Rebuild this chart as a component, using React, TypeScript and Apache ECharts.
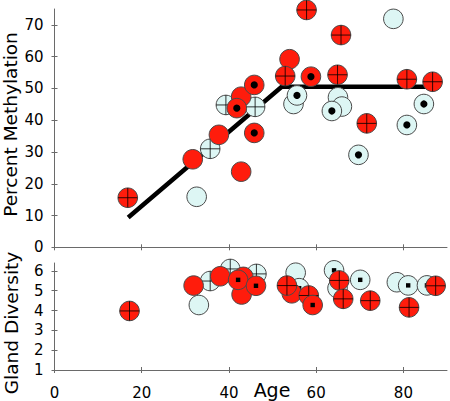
import React, { useEffect, useRef } from "react";
import * as echarts from "echarts";

// ---- Data ----
// Top panel: Percent Methylation vs Age
const methAge = [16.8, 31.7, 32.6, 35.7, 37.7, 39.3, 41.8, 42.8, 42.8, 45.8, 46.0, 45.8, 52.9, 53.9, 55.6, 54.8, 57.8, 58.8, 64.9, 65.7, 65.0, 65.9, 63.6, 71.6, 69.7, 77.7, 80.8, 80.8, 84.7, 86.7];
const methPct = [15.6, 27.7, 15.9, 31.0, 35.4, 44.8, 43.8, 47.4, 23.8, 51.1, 44.2, 36.0, 53.9, 59.2, 47.8, 45.1, 74.7, 53.7, 54.3, 66.8, 47.2, 44.3, 42.9, 39.0, 29.1, 71.9, 52.9, 38.5, 45.1, 52.1];
const methColor = ["red", "red", "cyan", "cyan", "red", "cyan", "red", "red", "red", "red", "cyan", "red", "red", "red", "cyan", "cyan", "red", "red", "red", "red", "cyan", "cyan", "cyan", "red", "cyan", "cyan", "red", "cyan", "cyan", "red"];
const methMark = ["cross", "plain", "plain", "cross", "plain", "cross", "dot", "plain", "plain", "dot", "cross", "dot", "cross", "plain", "dot", "plain", "cross", "dot", "cross", "cross", "plain", "plain", "dot", "cross", "dot", "plain", "cross", "dot", "dot", "cross"];

// Piecewise fit line
const fitAge = [16.9, 52.1, 86.5];
const fitPct = [9.4, 50.5, 50.5];

// Bottom panel: Gland Diversity vs Age
const glandAge = [17.2, 31.9, 33.1, 35.7, 38.0, 40.3, 42.1, 43.3, 42.9, 46.3, 46.2, 53.3, 54.4, 55.3, 56.1, 58.3, 59.2, 64.1, 65.3, 64.9, 66.2, 70.1, 72.4, 78.5, 81.1, 81.3, 85.4, 87.4];
const glandDiv = [3.98, 5.26, 4.28, 5.49, 5.73, 6.1, 5.55, 5.7, 4.81, 5.85, 5.25, 5.26, 4.87, 5.91, 5.13, 4.76, 4.28, 6.03, 5.52, 5.13, 4.59, 5.55, 4.5, 5.43, 5.27, 4.16, 5.27, 5.25];
const glandColor = ["red", "red", "cyan", "cyan", "red", "cyan", "red", "red", "red", "cyan", "red", "red", "red", "cyan", "cyan", "red", "red", "cyan", "red", "cyan", "red", "cyan", "red", "cyan", "cyan", "red", "cyan", "red"];
const glandMark = ["cross", "plain", "plain", "cross", "plain", "cross", "dot", "plain", "plain", "cross", "dot", "cross", "plain", "plain", "dot", "cross", "dot", "dot", "cross", "plain", "cross", "dot", "cross", "plain", "dot", "cross", "dot", "cross"];

// Tick labels
const xTicks = [0, 20, 40, 60, 80];
const methTicks = [0, 10, 20, 30, 40, 50, 60, 70];
const glandTicks = [1, 2, 3, 4, 5, 6];

// ---- Styling ----
const RED = "#ff1c0c";
const CYAN = "#ddf6f4";
const EDGE = "#4a4a4a";
const AXIS = "#6a6a6a";
const FONT = "DejaVu Sans";

const markCode: Record<string, number> = { plain: 0, cross: 1, dot: 2 };

function buildData(ages: number[], vals: number[], colors: string[], marks: string[]) {
  const rows = ages.map((a, i) => [a, vals[i], colors[i] === "red" ? 1 : 0, markCode[marks[i]]]);
  // layering: cyan first then red; plain < cross < dot
  return rows
    .map((r, i) => ({ r, i }))
    .sort((p, q) => p.r[2] * 3 + p.r[3] - (q.r[2] * 3 + q.r[3]) || p.i - q.i)
    .map((o) => o.r);
}

function makeRender(dotKind: "circle" | "square") {
  return (_params: any, api: any) => {
    const p = api.coord([api.value(0), api.value(1)]);
    const red = api.value(2) === 1;
    const mark = api.value(3);
    const r = 9.8;
    const children: any[] = [
      {
        type: "circle",
        shape: { cx: p[0], cy: p[1], r },
        style: { fill: red ? RED : CYAN, stroke: EDGE, lineWidth: 1 },
      },
    ];
    if (mark === 1) {
      children.push({
        type: "line",
        shape: { x1: p[0] - r, y1: p[1], x2: p[0] + r, y2: p[1] },
        style: { stroke: "#000", lineWidth: 0.8 },
      });
      children.push({
        type: "line",
        shape: { x1: p[0], y1: p[1] - r, x2: p[0], y2: p[1] + r },
        style: { stroke: "#000", lineWidth: 0.8 },
      });
    } else if (mark === 2) {
      if (dotKind === "circle") {
        children.push({ type: "circle", shape: { cx: p[0], cy: p[1], r: 3.6 }, style: { fill: "#000" } });
      } else {
        children.push({ type: "rect", shape: { x: p[0] - 2.2, y: p[1] - 2.2, width: 4.4, height: 4.4 }, style: { fill: "#000" } });
      }
    }
    return { type: "group", children };
  };
}

const labelStyle = { fontFamily: FONT, fontSize: 15, color: "#000" };

function xAxisDef(grid: number, inside: boolean, labels: boolean) {
  return {
    gridIndex: grid,
    type: "value",
    position: "bottom",
    min: 0,
    max: 90,
    interval: 10,
    axisLine: { show: !inside, onZero: false, lineStyle: { color: AXIS, width: 1 } },
    axisTick: { show: true, inside, length: 3, customValues: xTicks, lineStyle: { color: AXIS, width: 1 } },
    axisLabel: labels ? { show: true, customValues: xTicks, margin: 15, ...labelStyle } : { show: false },
    splitLine: { show: false },
  };
}

function yAxisDef(grid: number, inside: boolean, min: number, max: number, interval: number, ticks: number[]) {
  return {
    gridIndex: grid,
    type: "value",
    position: "left",
    min,
    max,
    interval,
    axisLine: { show: !inside, onZero: false, lineStyle: { color: AXIS, width: 1 } },
    axisTick: { show: true, inside, length: 3, customValues: ticks, lineStyle: { color: AXIS, width: 1 } },
    axisLabel: inside ? { show: false } : { show: true, customValues: ticks, margin: 11, ...labelStyle },
    splitLine: { show: false },
  };
}

export default function App() {
  const ref = useRef<HTMLDivElement>(null);

  useEffect(() => {
    document.body.style.margin = "0";
    if (!ref.current) return;
    const chart = echarts.init(ref.current, undefined, { renderer: "svg" });
    const option: any = {
      animation: false,
      backgroundColor: "#fff",
      grid: [
        { left: 54.5, top: 9, width: 392.5, height: 238.3, outerBoundsMode: "none", containLabel: false },
        { left: 54.5, top: 263, width: 392.5, height: 107, outerBoundsMode: "none", containLabel: false },
      ],
      xAxis: [xAxisDef(0, false, false), xAxisDef(1, false, true), xAxisDef(0, true, false), xAxisDef(1, true, false)],
      yAxis: [
        yAxisDef(0, false, 0, 75, 10, methTicks),
        yAxisDef(1, false, 1, 6.4, 1, glandTicks),
        yAxisDef(0, true, 0, 75, 10, methTicks),
        yAxisDef(1, true, 1, 6.4, 1, glandTicks),
      ],
      series: [
        {
          type: "line",
          xAxisIndex: 0,
          yAxisIndex: 0,
          data: fitAge.map((a, i) => [a, fitPct[i]]),
          symbol: "none",
          lineStyle: { color: "#000", width: 4.5, cap: "butt", join: "miter" },
          z: 1,
          silent: true,
        },
        {
          type: "custom",
          xAxisIndex: 0,
          yAxisIndex: 0,
          renderItem: makeRender("circle"),
          data: buildData(methAge, methPct, methColor, methMark),
          encode: { x: 0, y: 1 },
          z: 2,
        },
        {
          type: "custom",
          xAxisIndex: 1,
          yAxisIndex: 1,
          renderItem: makeRender("square"),
          data: buildData(glandAge, glandDiv, glandColor, glandMark),
          encode: { x: 0, y: 1 },
          z: 2,
        },
      ],
      graphic: [
        {
          type: "text",
          x: 10,
          y: 124.5,
          rotation: Math.PI / 2,
          style: {
            text: "Percent Methylation",
            fontFamily: FONT,
            fontSize: 18.5,
            fill: "#000",
            align: "center",
            textAlign: "center",
            verticalAlign: "middle",
            textVerticalAlign: "middle",
          },
        },
        {
          type: "text",
          x: 11,
          y: 323,
          rotation: Math.PI / 2,
          style: {
            text: "Gland Diversity",
            fontFamily: FONT,
            fontSize: 18.5,
            fill: "#000",
            align: "center",
            textAlign: "center",
            verticalAlign: "middle",
            textVerticalAlign: "middle",
          },
        },
        {
          type: "text",
          x: 272,
          y: 390,
          style: {
            text: "Age",
            fontFamily: FONT,
            fontSize: 19,
            fill: "#000",
            align: "center",
            textAlign: "center",
            verticalAlign: "middle",
            textVerticalAlign: "middle",
          },
        },
      ],
    };
    chart.setOption(option);
    return () => chart.dispose();
  }, []);

  return <div ref={ref} style={{ width: 450, height: 401 }} />;
}
